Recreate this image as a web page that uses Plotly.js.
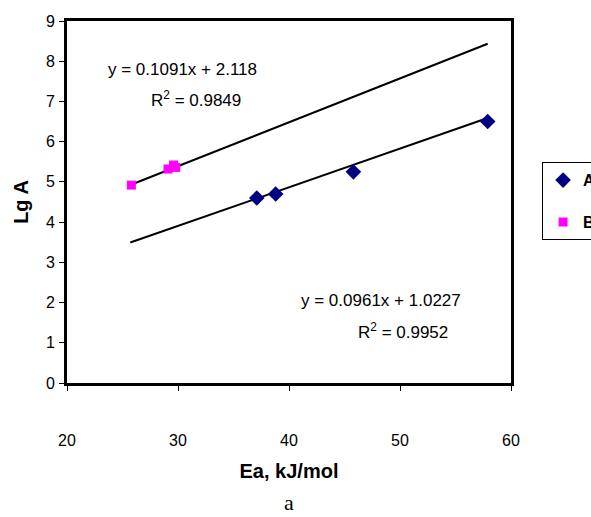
<!DOCTYPE html>
<html>
<head>
<meta charset="utf-8">
<script src="https://cdn.plot.ly/plotly-3.0.1.min.js"></script>
<style>html,body{margin:0;padding:0;background:#fff;}#chart{width:591px;height:517px;}</style>
</head>
<body>
<div id="chart"></div>
<script>
// Series A
const seriesAX = [37.1, 38.8, 45.8, 57.9];
const seriesAY = [4.6, 4.7, 5.25, 6.5];
// Series B
const seriesBX = [25.8, 29.1, 29.6, 29.8];
const seriesBY = [4.92, 5.32, 5.42, 5.36];
// Trendline coefficients (from the chart's equations)
const trendA = {slope: 0.0961, intercept: 1.0227, r2: 0.9952};
const trendB = {slope: 0.1091, intercept: 2.118, r2: 0.9849};
const trendX = [25.7, 57.9];
const xTicks = [20, 30, 40, 50, 60];
const yTicks = [0, 1, 2, 3, 4, 5, 6, 7, 8, 9];

const fit = (t) => trendX.map(x => t.slope * x + t.intercept);
const F = "Liberation Sans, Arial, sans-serif";

const traces = [
  {x: trendX, y: fit(trendB), mode: 'lines', line: {color: '#000', width: 2}, showlegend: false, hoverinfo: 'skip'},
  {x: trendX, y: fit(trendA), mode: 'lines', line: {color: '#000', width: 2}, showlegend: false, hoverinfo: 'skip'},
  {x: seriesAX, y: seriesAY, mode: 'markers', name: 'A', legendgroup: 'A',
   marker: {symbol: 'diamond', size: 12, color: '#000080'}},
  {x: seriesBX, y: seriesBY, mode: 'markers', name: 'B', legendgroup: 'B',
   marker: {symbol: 'square', size: 9, color: '#FF00FF'}}
];

const layout = {
  width: 591, height: 517,
  margin: {l: 67, r: 80, t: 21, b: 134, autoexpand: false},
  paper_bgcolor: '#fff', plot_bgcolor: '#fff',
  font: {family: F, size: 16, color: '#000'},
  xaxis: {
    range: [20, 60], tickvals: xTicks, ticktext: xTicks.map(String),
    showgrid: false, zeroline: false,
    showline: true, mirror: true, linewidth: 3, linecolor: '#000',
    ticks: 'outside', ticklen: 5, tickwidth: 1, tickcolor: '#000',
    ticklabelstandoff: 36,
    tickfont: {family: F, size: 16},
    title: {text: 'Ea, kJ/mol', font: {family: F, size: 20, weight: 'bold'}, standoff: 16}
  },
  yaxis: {
    range: [0, 9], tickvals: yTicks, ticktext: yTicks.map(String),
    showgrid: false, zeroline: false,
    showline: true, mirror: true, linewidth: 3, linecolor: '#000',
    ticks: 'outside', ticklen: 5, tickwidth: 1, tickcolor: '#000',
    ticklabelstandoff: 1,
    tickfont: {family: F, size: 16},
    title: {text: 'Lg A', font: {family: F, size: 20, weight: 'bold'}, standoff: 12}
  },
  legend: {
    x: 1.070, y: 0.61, xanchor: 'left', yanchor: 'top',
    bordercolor: '#000', borderwidth: 1, bgcolor: '#fff',
    font: {family: F, size: 16, weight: 'bold'},
    traceorder: 'grouped', tracegroupgap: 18
  },
  annotations: [
    {xref: 'x', yref: 'y', x: 30.4, y: 7.79, text: 'y = ' + trendB.slope + 'x + ' + trendB.intercept, showarrow: false, font: {family: F, size: 17}},
    {xref: 'x', yref: 'y', x: 31.6, y: 7.05, text: 'R<sup>2</sup> = ' + trendB.r2, showarrow: false, font: {family: F, size: 17}},
    {xref: 'x', yref: 'y', x: 48.3, y: 2.04, text: 'y = ' + trendA.slope + 'x + ' + trendA.intercept, showarrow: false, font: {family: F, size: 17}},
    {xref: 'x', yref: 'y', x: 50.3, y: 1.29, text: 'R<sup>2</sup> = ' + trendA.r2, showarrow: false, font: {family: F, size: 17}},
    {xref: 'paper', yref: 'paper', x: 0.5, y: -0.33, yanchor: 'middle', text: 'a', showarrow: false, font: {family: 'Liberation Serif, Times New Roman, serif', size: 22}}
  ]
};

Plotly.newPlot('chart', traces, layout, {displayModeBar: false, staticPlot: true});
</script>
</body>
</html>
